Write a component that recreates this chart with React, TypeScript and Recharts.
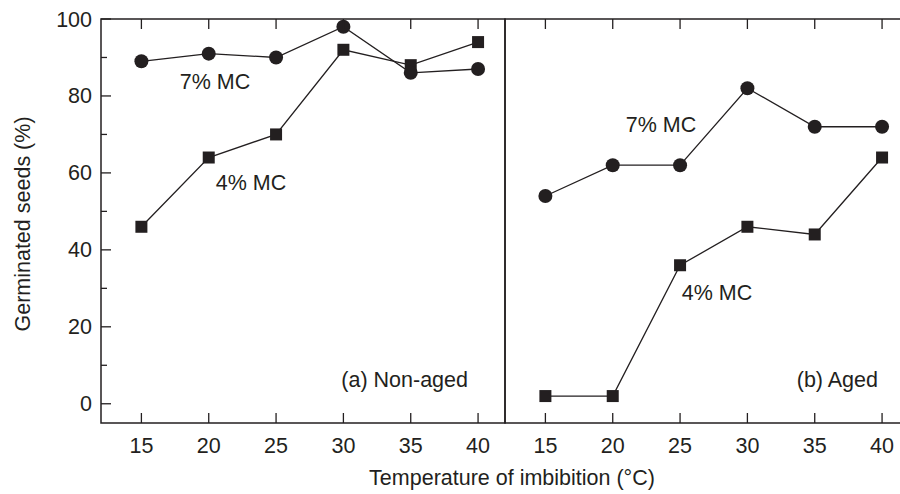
import { LineChart, Line, XAxis, YAxis, ReferenceArea } from 'recharts';

// temperature of imbibition (°C)
const temps = [15, 20, 25, 30, 35, 40];

// (a) non-aged seeds, germination %
const nonAged7 = [89, 91, 90, 98, 86, 87];
const nonAged4 = [46, 64, 70, 92, 88, 94];

// (b) aged seeds, germination %
const aged7 = [54, 62, 62, 82, 72, 72];
const aged4 = [2, 2, 36, 46, 44, 64];

const xTicks = [15, 20, 25, 30, 35, 40];
const yTicks = [0, 10, 20, 30, 40, 50, 60, 70, 80, 90, 100];
const xDomain = [12, 42];
const yDomain = [-5, 100];

const INK = '#231f20';
const FONT = '"Liberation Sans", Arial, Helvetica, sans-serif';
const FS = 21.5;

const nonAgedRows = temps.map((t, i) => ({ t, mc7: nonAged7[i], mc4: nonAged4[i] }));
const agedRows = temps.map((t, i) => ({ t, mc7: aged7[i], mc4: aged4[i] }));

function BottomTick(props: any) {
  const { x, y, payload } = props;
  return (
    <g>
      <line x1={x} x2={x} y1={y} y2={y - 10} stroke={INK} strokeWidth={1.3} />
      <text x={x} y={y + 30} textAnchor="middle" fontSize={FS} fill={INK} fontFamily={FONT}>
        {payload.value}
      </text>
    </g>
  );
}

function TopTick(props: any) {
  const { x, y } = props;
  return <line x1={x} x2={x} y1={y} y2={y + 10} stroke={INK} strokeWidth={1.3} />;
}

function LeftTick(props: any) {
  const { x, y, payload } = props;
  const major = payload.value % 20 === 0;
  return (
    <g>
      <line x1={x} x2={x + (major ? 10 : 6)} y1={y} y2={y} stroke={INK} strokeWidth={1.3} />
      {major && (
        <text x={x - 9} y={y} dy={7.5} textAnchor="end" fontSize={FS} fill={INK} fontFamily={FONT}>
          {payload.value}
        </text>
      )}
    </g>
  );
}

function RightTick(props: any) {
  const { x, y, payload } = props;
  const major = payload.value % 20 === 0;
  return <line x1={x} x2={x - (major ? 10 : 6)} y1={y} y2={y} stroke={INK} strokeWidth={1.3} />;
}

function SquareDot(props: any) {
  const { cx, cy, index } = props;
  return <rect key={`sq-${index}`} x={cx - 6} y={cy - 6} width={12} height={12} fill={INK} />;
}

function CircleDot(props: any) {
  const { cx, cy, index } = props;
  return <circle key={`ci-${index}`} cx={cx} cy={cy} r={7} fill={INK} />;
}

const txt = { fontSize: FS, fill: INK, fontFamily: FONT } as const;

// axis lines come from the ReferenceArea frame, ticks are custom (drawn inward)
const noLine = { tickSize: 0, tickMargin: 0, tickLine: false, axisLine: false, interval: 0 as const };

export default function App() {
  return (
    <div
      style={{
        position: 'absolute',
        left: 0,
        top: 0,
        width: 900,
        height: 494,
        overflow: 'hidden',
        background: '#fff',
      }}
    >
      {/* (a) non-aged */}
      <div style={{ position: 'absolute', left: 0, top: 0 }}>
        <LineChart
          width={900}
          height={494}
          data={nonAgedRows}
          margin={{ top: 18, left: 41, right: 394, bottom: 41 }}
        >
          <XAxis
            dataKey="t"
            type="number"
            domain={xDomain}
            ticks={xTicks}
            height={30}
            {...noLine}
            tick={(p: any) => <BottomTick {...p} />}
          />
          <XAxis
            xAxisId="top"
            orientation="top"
            dataKey="t"
            type="number"
            domain={xDomain}
            ticks={xTicks}
            height={1}
            {...noLine}
            tick={(p: any) => <TopTick {...p} />}
          />
          <YAxis
            type="number"
            domain={yDomain}
            ticks={yTicks}
            width={60}
            {...noLine}
            tick={(p: any) => <LeftTick {...p} />}
          />
          <YAxis
            yAxisId="right"
            orientation="right"
            type="number"
            domain={yDomain}
            ticks={yTicks}
            width={1}
            {...noLine}
            tick={(p: any) => <RightTick {...p} />}
          />
          <ReferenceArea
            x1={xDomain[0]}
            x2={xDomain[1]}
            y1={yDomain[0]}
            y2={yDomain[1]}
            fill="none"
            fillOpacity={0}
            stroke={INK}
            strokeWidth={1.5}
            ifOverflow="visible"
          />
          <Line
            dataKey="mc4"
            stroke={INK}
            strokeWidth={1.3}
            dot={(p: any) => <SquareDot {...p} />}
            activeDot={false}
            isAnimationActive={false}
          />
          <Line
            dataKey="mc7"
            stroke={INK}
            strokeWidth={1.3}
            dot={(p: any) => <CircleDot {...p} />}
            activeDot={false}
            isAnimationActive={false}
          />
          <text x={215} y={89} textAnchor="middle" {...txt}>7% MC</text>
          <text x={251} y={190} textAnchor="middle" {...txt}>4% MC</text>
          <text x={468} y={387} textAnchor="end" {...txt}>(a) Non-aged</text>
          <text x={29.5} y={224} textAnchor="middle" transform="rotate(-90, 29.5, 224)" {...txt}>
            Germinated seeds (%)
          </text>
          <text x={512} y={485} textAnchor="middle" {...txt}>
            Temperature of imbibition (°C)
          </text>
        </LineChart>
      </div>

      {/* (b) aged */}
      <div style={{ position: 'absolute', left: 504, top: 0 }}>
        <LineChart
          width={406}
          height={494}
          data={agedRows}
          margin={{ top: 18, left: 0, right: 0, bottom: 41 }}
        >
          <XAxis
            dataKey="t"
            type="number"
            domain={xDomain}
            ticks={xTicks}
            height={30}
            {...noLine}
            tick={(p: any) => <BottomTick {...p} />}
          />
          <XAxis
            xAxisId="top"
            orientation="top"
            dataKey="t"
            type="number"
            domain={xDomain}
            ticks={xTicks}
            height={1}
            {...noLine}
            tick={(p: any) => <TopTick {...p} />}
          />
          <YAxis type="number" domain={yDomain} ticks={yTicks} width={1} {...noLine} tick={false} />
          <YAxis
            yAxisId="right"
            orientation="right"
            type="number"
            domain={yDomain}
            ticks={yTicks}
            width={1}
            {...noLine}
            tick={(p: any) => <RightTick {...p} />}
          />
          <ReferenceArea
            x1={xDomain[0]}
            x2={xDomain[1]}
            y1={yDomain[0]}
            y2={yDomain[1]}
            fill="none"
            fillOpacity={0}
            stroke={INK}
            strokeWidth={1.5}
            ifOverflow="visible"
          />
          <Line
            dataKey="mc4"
            stroke={INK}
            strokeWidth={1.3}
            dot={(p: any) => <SquareDot {...p} />}
            activeDot={false}
            isAnimationActive={false}
          />
          <Line
            dataKey="mc7"
            stroke={INK}
            strokeWidth={1.3}
            dot={(p: any) => <CircleDot {...p} />}
            activeDot={false}
            isAnimationActive={false}
          />
          <text x={157} y={132} textAnchor="middle" {...txt}>7% MC</text>
          <text x={213} y={300} textAnchor="middle" {...txt}>4% MC</text>
          <text x={374} y={387} textAnchor="end" {...txt}>(b) Aged</text>
        </LineChart>
      </div>
    </div>
  );
}
